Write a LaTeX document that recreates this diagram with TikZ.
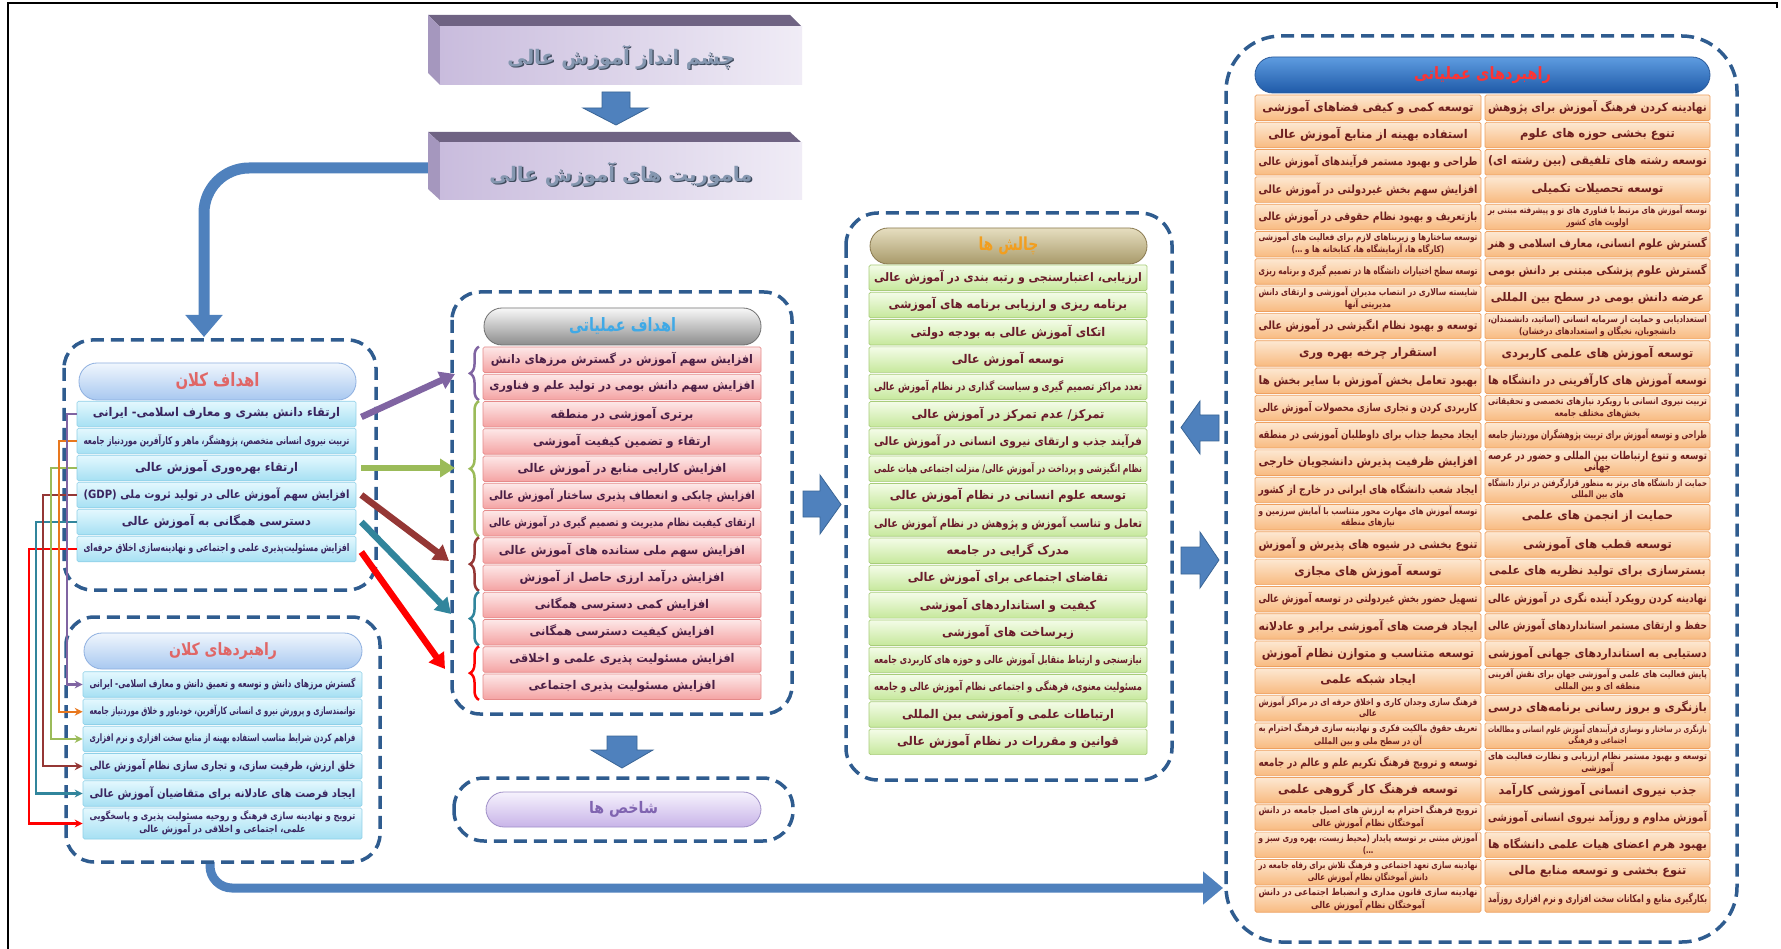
\documentclass[tikz,border=0pt]{standalone}
\usepackage{fontspec}
\usepackage{graphicx}
\usetikzlibrary{arrows.meta,decorations.pathreplacing,calc}
\TeXXeTstate=1
\newfontfamily\arabicfont[Script=Arabic]{DejaVu Sans}
\newcommand\fa[1]{{\arabicfont\bfseries\beginR #1\endR}}
\newcommand\two[3][10]{\fontsize{#1}{#1}\selectfont\fa{#2}\\\fontsize{#1}{#1}\selectfont\fa{#3}}
\newcommand\cel[1]{{\def\arraystretch{0.9}\begin{tabular}{@{}c@{}}#1\end{tabular}}}
\newsavebox\fitbx
\newcommand\fitwh[3]{\sbox\fitbx{#3}%
 \pgfmathsetmacro\frw{#1/(\the\wd\fitbx+0.01pt)}%
 \pgfmathsetmacro\fys{min(1,#2/(\the\ht\fitbx+\the\dp\fitbx+0.01pt),pow(min(1,\frw),0.3))}%
 \pgfmathsetmacro\fxs{min(0.95*\fys,\frw)}%
 \scalebox{\fxs}[\fys]{\usebox\fitbx}}
\newcommand\tw[3]{\resizebox*{#1}{#2}{#3}}

\definecolor{dashblue}{HTML}{2F5C8F}
\definecolor{arrowblue}{HTML}{4F81BD}
\definecolor{arrowedge}{HTML}{3A6596}
\definecolor{cpurple}{HTML}{8064A2}
\definecolor{corange}{HTML}{E8781E}
\definecolor{cgreen}{HTML}{9BBB59}
\definecolor{cdred}{HTML}{953735}
\definecolor{cteal}{HTML}{31859C}
\definecolor{cred}{HTML}{FF0000}
\definecolor{txC}{HTML}{3A2560}
\definecolor{txP}{HTML}{4B1F45}
\definecolor{txG}{HTML}{6A1B2B}
\definecolor{txO}{HTML}{6E1F1F}
\definecolor{titleface}{HTML}{8597B0}
\definecolor{titleshadow}{HTML}{3E4A5C}
\definecolor{cBd}{HTML}{8FD0E8}\definecolor{cTop}{HTML}{E4F8FE}\definecolor{cBot}{HTML}{A6E0F3}
\definecolor{pBd}{HTML}{E58A8A}\definecolor{pTop}{HTML}{FDE8E8}\definecolor{pBot}{HTML}{F4A3A3}
\definecolor{gBd}{HTML}{A8CC7A}\definecolor{gTop}{HTML}{F4FCE8}\definecolor{gBot}{HTML}{C6E89C}
\definecolor{oBd}{HTML}{EEA060}\definecolor{oTop}{HTML}{FDE8D2}\definecolor{oBot}{HTML}{F8BA80}
\definecolor{lbBd}{HTML}{8FB0E0}\definecolor{lbTop}{HTML}{F0F6FD}\definecolor{lbBot}{HTML}{A8C8F0}
\definecolor{svBd}{HTML}{707070}\definecolor{svTop}{HTML}{F8F8F8}\definecolor{svBot}{HTML}{8C8C8C}
\definecolor{khBd}{HTML}{8A7A50}\definecolor{khTop}{HTML}{E6DEC0}\definecolor{khBot}{HTML}{A89A6A}
\definecolor{blBd}{HTML}{2A5A9A}\definecolor{blTop}{HTML}{5E9CE0}\definecolor{blBot}{HTML}{1F5AA8}
\definecolor{lvBd}{HTML}{A090C8}\definecolor{lvTop}{HTML}{F6F2FD}\definecolor{lvBot}{HTML}{C8B4E8}
\definecolor{tRed}{HTML}{E06666}
\definecolor{tSky}{HTML}{3FA9E6}
\definecolor{tOrg}{HTML}{F29E1F}
\definecolor{tBRed}{HTML}{FF3333}
\definecolor{tPur}{HTML}{8064B0}
\definecolor{bevTop}{HTML}{6F6383}
\definecolor{bevLeft}{HTML}{A597BE}
\definecolor{faceL}{HTML}{C9BCDD}
\definecolor{faceR}{HTML}{F0ECF6}

\tikzset{
  cont/.style={draw=dashblue, line width=3.5pt, dash pattern=on 13pt off 7pt, rounded corners=28pt},
  rowbase/.style={inner sep=0pt, rounded corners=1.5pt, line width=0.7pt, font=\fontsize{12}{14}\selectfont},
  rowC/.style={rowbase, draw=cBd, top color=cTop, bottom color=cBot, text=txC},
  rowP/.style={rowbase, draw=pBd, top color=pTop, bottom color=pBot, text=txP},
  rowG/.style={rowbase, draw=gBd, top color=gTop, bottom color=gBot, text=txG},
  rowO/.style={rowbase, draw=oBd, top color=oTop, bottom color=oBot, text=txO},
  pill/.style={inner sep=0pt, rounded corners=18pt, line width=0.8pt, minimum height=37pt, font=\fontsize{20}{24}\selectfont},
  face/.style={inner sep=0pt, left color=faceL, right color=faceR},
  conn/.style={line width=2.2pt, -{Stealth[length=8pt,width=8pt]}},
  thick/.style={line width=6.5pt, -{Triangle[length=15pt,width=18pt]}},
  bracestyle/.style={line width=2.5pt, decorate, decoration={brace, amplitude=9pt}},
  blockarrow/.style={fill=arrowblue, draw=arrowedge, line width=0.8pt},
  bigarrow/.style={draw=arrowblue, line cap=butt},
}
\begin{document}
\begin{tikzpicture}[x=1pt,y=-1pt]
\useasboundingbox (0,0) rectangle (1781,949);
\fill[white] (0,0) rectangle (1781,949);
\draw[black, line width=1.5pt] (8,949) -- (8,3) -- (1777,3) -- (1777,8);

\coordinate (ltin) at (204,337);
\coordinate (bstart) at (210,862);
\coordinate (rin) at (1223,888);

% ---------- vision / mission ----------
\fill[bevTop] (428,15) -- (790,15) -- (802,27) -- (440,27) -- cycle;
\fill[bevLeft] (428,15) -- (440,27) -- (440,85) -- (428,73) -- cycle;
\node[face, minimum width=362pt, minimum height=58pt] (vision) at (621,56) {};
\node[text=titleshadow] (vision-s) at (622.3,58.3) {\tw{227pt}{24pt}{\fa{چشم انداز آموزش عالی}}};
\node[text=titleface] (vision-t) at (621,57) {\tw{227pt}{24pt}{\fa{چشم انداز آموزش عالی}}};

\draw[bigarrow, line width=11pt, rounded corners=45pt, -{Triangle[length=22pt,width=36pt]}] (430,168) -| (ltin);

\fill[bevTop] (428,132) -- (790,132) -- (802,143) -- (440,143) -- cycle;
\fill[bevLeft] (428,132) -- (440,143) -- (440,200) -- (428,189) -- cycle;
\node[face, minimum width=362pt, minimum height=57pt] (mission) at (621,171.5) {};
\node[text=titleshadow] (mission-s) at (622.3,175.3) {\tw{263pt}{24pt}{\fa{ماموریت های آموزش عالی}}};
\node[text=titleface] (mission-t) at (621,174) {\tw{263pt}{24pt}{\fa{ماموریت های آموزش عالی}}};

\fill[blockarrow] (602,92) -- (630,92) -- (630,108) -- (648,108) -- (616,125) -- (583,108) -- (602,108) -- cycle;

% ---------- bottom long arrow ----------
\draw[bigarrow, line width=9pt, rounded corners=22pt, -{Triangle[length=20pt,width=32pt]}] (bstart) |- (rin);

% ---------- left top: اهداف کلان ----------
\draw[cont] (64,340) rectangle (376,590);
\node[pill, draw=lbBd, top color=lbTop, bottom color=lbBot, minimum width=277pt, text=tRed] (lttitle) at (217.5,381.5) {\tw{84pt}{17pt}{\fa{اهداف کلان}}};
\foreach \t [count=\i] in {
 {\fa{ارتقاء دانش بشری و معارف اسلامی- ایرانی}},
 {\fa{تربیت نیروی انسانی متخصص، پژوهشگر، ماهر و کارآفرین موردنیاز جامعه}},
 {\fa{ارتقاء بهره^^^^200cوری آموزش عالی}},
 {\fa{افزایش سهم آموزش عالی در تولید ثروت ملی \beginL(GDP)\endL}},
 {\fa{دسترسی همگانی به آموزش عالی}},
 {\fa{افزایش مسئولیت^^^^200cپذیری علمی و اجتماعی و نهادینه^^^^200cسازی اخلاق حرفه^^^^200cای}}}
{\node[rowC, minimum width=279pt, minimum height=25.5pt] (lt\i) at (216.5,{414+(\i-1)*27}) {\fitwh{266pt}{24pt}{\cel{\t}}};}

% ---------- left bottom: راهبردهای کلان ----------
\draw[cont] (66,617) rectangle (380,862);
\node[pill, draw=lbBd, top color=lbTop, bottom color=lbBot, minimum width=278pt, minimum height=36pt, text=tRed] (lbtitle) at (223,651) {\tw{108pt}{17pt}{\fa{راهبردهای کلان}}};
\foreach \t [count=\i] in {
 {\fa{گسترش مرزهای دانش و توسعه و تعمیق دانش و معارف اسلامی- ایرانی}},
 {\fa{توانمندسازی و پرورش نیرو ی انسانی کارآفرین، خودباور و خلاق موردنیاز جامعه}},
 {\fa{فراهم کردن شرایط مناسب استفاده بهینه از منابع سخت افزاری و نرم افزاری}},
 {\fa{خلق ارزش، ظرفیت سازی، و تجاری سازی نظام آموزش عالی}},
 {\fa{ایجاد فرصت های عادلانه برای متقاضیان آموزش عالی}}}
{\node[rowC, minimum width=279pt, minimum height=25.5pt] (lb\i) at (222.5,{684.5+(\i-1)*27.25}) {\fitwh{266pt}{24pt}{\cel{\t}}};}
\node[rowC, minimum width=279pt, minimum height=31pt] (lb6) at (222.5,823.5) {\fitwh{266pt}{30pt}{\cel{\fontsize{10.5}{10.5}\selectfont\fa{ترویج و نهادینه سازی فرهنگ و روحیه مسئولیت پذیری و پاسخگویی}\\\fontsize{10.5}{10.5}\selectfont\fa{علمی، اجتماعی و اخلاقی در آموزش عالی}}}};

% ---------- left colour connectors ----------
\coordinate (vp) at (67,0);
\coordinate (vo) at (59,0);
\coordinate (vg) at (51,0);
\coordinate (vd) at (43,0);
\coordinate (vt) at (36,0);
\coordinate (vr) at (29,0);
\draw[conn, cred]    (lt6.west) -- (lt6.west -| vr) -- (lb6.west -| vr) -- (lb6.west);
\draw[conn, cteal]   (lt5.west) -- (lt5.west -| vt) -- (lb5.west -| vt) -- (lb5.west);
\draw[conn, cdred]   (lt4.west) -- (lt4.west -| vd) -- (lb4.west -| vd) -- (lb4.west);
\draw[conn, cgreen]  (lt3.west) -- (lt3.west -| vg) -- (lb3.west -| vg) -- (lb3.west);
\draw[conn, corange] (lt2.west) -- (lt2.west -| vo) -- (lb2.west -| vo) -- (lb2.west);
\draw[conn, cpurple] (lt1.west) -- (lt1.west -| vp) -- (lb1.west -| vp) -- (lb1.west);

% ---------- middle: اهداف عملیاتی ----------
\draw[cont] (452,292) rectangle (792,714);
\node[pill, draw=svBd, top color=svTop, bottom color=svBot, minimum width=277pt, text=tSky] (midtitle) at (622.5,326.5) {\tw{107pt}{17pt}{\fa{اهداف عملیاتی}}};
\foreach \t [count=\i] in {
 {\fa{افزایش سهم آموزش در گسترش مرزهای دانش}},
 {\fa{افزایش سهم دانش بومی در تولید علم و فناوری}},
 {\fa{برتری آموزشی در منطقه}},
 {\fa{ارتقاء  و تضمین کیفیت آموزشی}},
 {\fa{افزایش کارایی منابع در آموزش عالی}},
 {\fa{افزایش چابکی و انعطاف پذیری ساختار آموزش عالی}},
 {\fa{ارتقای کیفیت نظام مدیریت و تصمیم گیری در آموزش عالی}},
 {\fa{افزایش سهم ملی ستانده های آموزش عالی}},
 {\fa{افزایش درآمد ارزی حاصل از آموزش}},
 {\fa{افزایش کمی دسترسی همگانی}},
 {\fa{افزایش کیفیت دسترسی همگانی}},
 {\fa{افزایش مسئولیت پذیری علمی و اخلاقی}},
 {\fa{افزایش مسئولیت پذیری اجتماعی}}}
{\node[rowP, minimum width=278pt, minimum height=25.5pt] (mid\i) at (622,{359.75+(\i-1)*27.25}) {\fitwh{266pt}{24pt}{\cel{\t}}};}

% braces
\coordinate (bx) at (479,0);
\draw[bracestyle, cpurple] (mid2.south -| bx) -- (mid1.north -| bx);
\draw[bracestyle, cgreen]  (mid7.south -| bx) -- (mid3.north -| bx);
\draw[bracestyle, cdred]   (mid9.south -| bx) -- (mid8.north -| bx);
\draw[bracestyle, cteal]   (mid11.south -| bx) -- (mid10.north -| bx);
\draw[bracestyle, cred]    (mid13.south -| bx) -- (mid12.north -| bx);

% thick arrows from goals to braces
\coordinate (bp) at (455,374);
\coordinate (bg) at (455,468);
\coordinate (bd) at (449,561);
\coordinate (bt) at (451,614);
\coordinate (br) at (445,669);
\draw[thick, cpurple] ($(lt1.east)+(5,3)$) -- (bp);
\draw[thick, cgreen]  ($(lt3.east)+(5,0)$) -- (bg);
\draw[thick, cdred]   ($(lt4.east)+(5,0)$) -- (bd);
\draw[thick, cteal]   ($(lt5.east)+(5,0)$) -- (bt);
\draw[thick, cred]    ($(lt6.east)+(5,3)$) -- (br);

% down arrow and indicators
\fill[blockarrow] (607,736) -- (637,736) -- (637,750) -- (653,750) -- (622,768) -- (591,750) -- (607,750) -- cycle;
\draw[cont, rounded corners=30pt] (454,778) rectangle (793,841);
\node[pill, draw=lvBd, top color=lvTop, bottom color=lvBot, minimum width=275pt, minimum height=35pt, text=tPur] (shtitle) at (623.5,809.5) {\tw{69pt}{16pt}{\fa{شاخص ها}}};

% arrow to challenges
\fill[blockarrow] (803,491) -- (820,491) -- (820,475) -- (841,504.5) -- (820,534) -- (820,517) -- (803,517) -- cycle;

% ---------- challenges ----------
\draw[cont, rounded corners=32pt] (846,213) rectangle (1172,780);
\node[pill, draw=khBd, top color=khTop, bottom color=khBot, minimum width=277pt, minimum height=36pt, text=tOrg] (chtitle) at (1008.5,246) {\tw{60pt}{18pt}{\fa{چالش ها}}};
\foreach \t [count=\i] in {
 {\fa{ارزیابی، اعتبارسنجی و رتبه بندی در آموزش عالی}},
 {\fa{برنامه ریزی و ارزیابی برنامه های آموزشی}},
 {\fa{اتکای آموزش عالی به بودجه دولتی}},
 {\fa{توسعه آموزش عالی}},
 {\fa{تعدد مراکز تصمیم گیری و سیاست گذاری در نظام آموزش عالی}},
 {\fa{تمرکز/ عدم تمرکز در آموزش عالی}},
 {\fa{فرآیند جذب و ارتقای نیروی انسانی در آموزش عالی}},
 {\fa{نظام انگیزشی و پرداخت در آموزش عالی/ منزلت اجتماعی هیات علمی}},
 {\fa{توسعه علوم انسانی در نظام آموزش عالی}},
 {\fa{تعامل و تناسب آموزش و پژوهش در نظام آموزش عالی}},
 {\fa{مدرک گرایی در جامعه}},
 {\fa{تقاضای اجتماعی برای آموزش عالی}},
 {\fa{کیفیت و استانداردهای آموزشی}},
 {\fa{زیرساخت های آموزشی}},
 {\fa{نیازسنجی و ارتباط متقابل آموزش عالی و حوزه های کاربردی جامعه}},
 {\fa{مسئولیت معنوی، فرهنگی و اجتماعی نظام آموزش عالی و جامعه}},
 {\fa{ارتباطات علمی و آموزشی بین المللی}},
 {\fa{قوانین و مقررات در نظام آموزش عالی}}}
{\node[rowG, minimum width=278pt, minimum height=25.5pt] (ch\i) at (1008,{277.75+(\i-1)*27.3}) {\fitwh{268pt}{24pt}{\cel{\t}}};}

% arrows between challenges and strategies
\fill[blockarrow] (1219,415) -- (1200,415) -- (1200,401) -- (1181,427.5) -- (1200,454) -- (1200,441) -- (1219,441) -- cycle;
\fill[blockarrow] (1181,547) -- (1200,547) -- (1200,532) -- (1219,560) -- (1200,588) -- (1200,574) -- (1181,574) -- cycle;

% ---------- right: راهبردهای عملیاتی ----------
\draw[cont, rounded corners=55pt] (1226,36) rectangle (1737,942);
\node[pill, draw=blBd, top color=blTop, bottom color=blBot, minimum width=455pt, minimum height=36pt, text=tBRed] (rtitle) at (1482.5,75) {\tw{137pt}{17pt}{\fa{راهبردهای عملیاتی}}};
\foreach \t [count=\i] in {
 {\fa{توسعه کمی و کیفی فضاهای آموزشی}},
 {\fa{استفاده بهینه از منابع آموزش عالی}},
 {\fa{طراحی و بهبود مستمر فرآیندهای آموزش عالی}},
 {\fa{افزایش سهم بخش غیردولتی در آموزش عالی}},
 {\fa{بازتعریف و بهبود نظام حقوقی در آموزش عالی}},
 {\two{توسعه ساختارها و زیربناهای لازم برای فعالیت های آموزشی}{(کارگاه ها، آزمایشگاه ها، کتابخانه ها و …)}},
 {\fa{توسعه سطح اختیارات دانشگاه ها در تصمیم گیری و برنامه ریزی}},
 {\two{شایسته سالاری در انتصاب مدیران آموزشی و ارتقای دانش}{مدیریتی آنها}},
 {\fa{توسعه و بهبود نظام انگیزشی در آموزش عالی}},
 {\fa{استقرار چرخه بهره وری}},
 {\fa{بهبود تعامل بخش آموزش با سایر بخش ها}},
 {\fa{کاربردی کردن و تجاری سازی محصولات آموزش عالی}},
 {\fa{ایجاد محیط جذاب برای داوطلبان آموزشی در منطقه}},
 {\fa{افزایش ظرفیت پذیرش دانشجویان خارجی}},
 {\fa{ایجاد شعب دانشگاه های ایرانی در خارج از کشور}},
 {\two{توسعه آموزش های مهارت محور متناسب با آمایش سرزمین و}{نیازهای منطقه}},
 {\fa{تنوع بخشی در شیوه های پذیرش و آموزش}},
 {\fa{توسعه آموزش های مجازی}},
 {\fa{تسهیل حضور بخش غیردولتی در توسعه آموزش عالی}},
 {\fa{ایجاد فرصت های آموزشی برابر و عادلانه}},
 {\fa{توسعه متناسب و متوازن نظام آموزش}},
 {\fa{ایجاد شبکه علمی}},
 {\two{فرهنگ سازی وجدان کاری و اخلاق حرفه ای در مراکز آموزش}{عالی}},
 {\two{تعریف حقوق مالکیت فکری و نهادینه سازی فرهنگ احترام به}{آن در سطح ملی و بین المللی}},
 {\fa{توسعه و ترویج فرهنگ تکریم علم و عالم در جامعه}},
 {\fa{توسعه فرهنگ کار گروهی علمی}},
 {\two{ترویج فرهنگ احترام به ارزش های اصیل جامعه در دانش}{آموختگان نظام آموزش عالی}},
 {\two{آموزش مبتنی بر توسعه پایدار (محیط زیست، بهره وری سبز و}{…)}},
 {\two{نهادینه سازی تعهد اجتماعی و فرهنگ تلاش برای رفاه جامعه در}{دانش آموختگان نظام آموزش عالی}},
 {\two{نهادینه سازی قانون مداری و انضباط اجتماعی در دانش}{آموختگان نظام آموزش عالی}}}
{\node[rowO, minimum width=226pt, minimum height=25.5pt] (ra\i) at (1368,{107.75+(\i-1)*27.3}) {\fitwh{219pt}{27pt}{\cel{\t}}};}
\foreach \t [count=\i] in {
 {\fa{نهادینه کردن فرهنگ آموزش برای پژوهش}},
 {\fa{تنوع بخشی حوزه های علوم}},
 {\fa{توسعه رشته های تلفیقی (بین رشته ای)}},
 {\fa{توسعه تحصیلات تکمیلی}},
 {\two{توسعه آموزش های مرتبط با فناوری های نو و پیشرفته مبتنی بر}{اولویت های کشور}},
 {\fa{گسترش علوم انسانی، معارف اسلامی و هنر}},
 {\fa{گسترش علوم پزشکی مبتنی بر دانش بومی}},
 {\fa{عرضه دانش بومی در سطح بین المللی}},
 {\two{استعدادیابی و حمایت از سرمایه انسانی (اساتید، دانشمندان،}{دانشجویان، نخبگان و استعدادهای درخشان)}},
 {\fa{توسعه آموزش های علمی کاربردی}},
 {\fa{توسعه آموزش های کارآفرینی در دانشگاه ها}},
 {\two{تربیت نیروی انسانی با رویکرد نیازهای تخصصی و تحقیقاتی}{بخش^^^^200cهای مختلف جامعه}},
 {\fa{طراحی و توسعه آموزش برای تربیت پژوهشگران موردنیاز جامعه}},
 {\two[12]{توسعه و تنوع ارتباطات بین المللی و حضور در عرصه}{جهانی}},
 {\two{حمایت از دانشگاه های برتر به منظور قرارگرفتن در تراز دانشگاه}{های بین المللی}},
 {\fa{حمایت از انجمن های علمی}},
 {\fa{توسعه قطب های آموزشی}},
 {\fa{بسترسازی برای تولید نظریه های علمی}},
 {\fa{نهادینه کردن رویکرد آینده نگری در آموزش عالی}},
 {\fa{حفظ و ارتقای مستمر استانداردهای آموزش عالی}},
 {\fa{دستیابی به استانداردهای جهانی آموزشی}},
 {\two{پایش فعالیت های علمی و آموزشی جهان برای نقش آفرینی}{منطقه ای و بین المللی}},
 {\fa{بازنگری و بروز رسانی برنامه^^^^200cهای درسی}},
 {\two{بازنگری در ساختار و نوسازی فرآیندهای آموزش علوم انسانی و مطالعات}{اجتماعی و فرهنگی}},
 {\two{توسعه و بهبود مستمر نظام ارزیابی و نظارت فعالیت های}{آموزشی}},
 {\fa{جذب نیروی انسانی آموزشی کارآمد}},
 {\fa{آموزش مداوم و روزآمد نیروی انسانی آموزشی}},
 {\fa{بهبود هرم اعضای هیات علمی دانشگاه ها}},
 {\fa{تنوع بخشی و توسعه منابع مالی}},
 {\fa{بکارگیری منابع و امکانات سخت افزاری و نرم افزاری روزآمد}}}
{\node[rowO, minimum width=225pt, minimum height=25.5pt] (rb\i) at (1597.5,{107.75+(\i-1)*27.3}) {\fitwh{219pt}{27pt}{\cel{\t}}};}
\end{tikzpicture}
\end{document}
